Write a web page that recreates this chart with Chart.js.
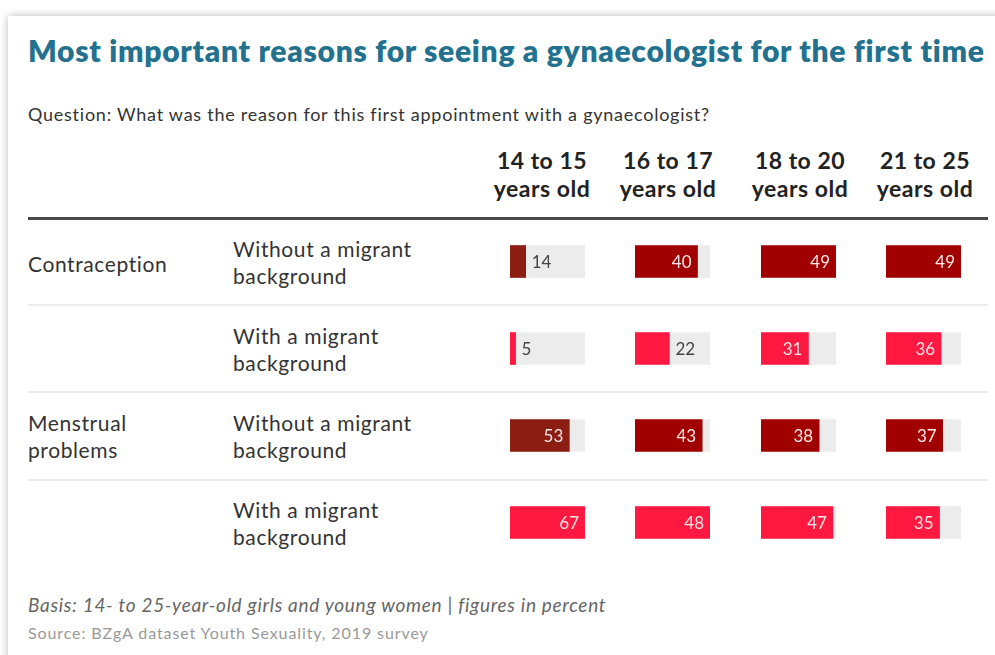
<!DOCTYPE html>
<html>
<head>
<meta charset="utf-8">
<script src="https://cdn.jsdelivr.net/npm/chart.js@4.4.1/dist/chart.umd.min.js"></script>
<style>
    body { margin: 0; background: #ffffff; width: 995px; height: 655px; overflow: hidden; font-family: Lato, "Open Sans", sans-serif; }
    .card { position: absolute; left: 8px; top: 16px; width: 1000px; height: 700px; background: #fff; box-shadow: 0 0 8px rgba(0,0,0,0.28); }
    .txt { position: absolute; white-space: nowrap; }
    .title { left: 28px; top: 32px; line-height: 36px; font-size: 30px; letter-spacing: 0.72px; font-weight: 800; color: #22718e; }
    .question { left: 28px; top: 103px; line-height: 22px; font-size: 18px; letter-spacing: 0.75px; color: #333; }
    .head { font-size: 23px; letter-spacing: 0.5px; font-weight: 700; color: #222; text-align: center; width: 140px; line-height: 28px; }
    .row { font-size: 21px; letter-spacing: 0.6px; color: #333; line-height: 26px; }
    .rule { position: absolute; left: 28px; width: 960px; }
    .col { position: absolute; top: 218px; width: 75px; height: 348px; }
    .basis { left: 28px; top: 594px; font-size: 19px; letter-spacing: 0.7px; font-style: italic; color: #666; line-height: 22px; }
    .source { left: 28px; top: 623px; font-size: 16px; letter-spacing: 0.9px; color: #999; line-height: 20px; }
</style>
</head>
<body>
<div class="card"></div>
<div id="root"></div>
<script>
    // Data
    const ageGroups = ['14 to 15|years old', '16 to 17|years old', '18 to 20|years old', '21 to 25|years old'];
    const reasons = ['Contraception', 'Menstrual|problems'];
    const groups = ['Without a migrant|background', 'With a migrant|background'];
    const age14to15 = [14, 5, 53, 67];
    const age16to17 = [40, 22, 43, 48];
    const age18to20 = [49, 31, 38, 47];
    const age21to25 = [49, 36, 37, 35];
    const columns = [age14to15, age16to17, age18to20, age21to25];

    const title = 'Most important reasons for seeing a gynaecologist for the first time';
    const question = 'Question: What was the reason for this first appointment with a gynaecologist?';
    const basis = 'Basis: 14- to 25-year-old girls and young women | figures in percent';
    const source = 'Source: BZgA dataset Youth Sexuality, 2019 survey';

    // Layout / style
    const colLeft = [510, 635, 761, 886];
    const headCenter = [542, 668, 800, 925];
    const rowCenter = [262, 349, 436, 523];
    const DARK = '#a00000';
    const BROWN = '#8b1d13';
    const LIGHT = '#ff1840';

    const root = document.getElementById('root');

    function addText(cls, text, left, top) {
        const d = document.createElement('div');
        d.className = 'txt ' + cls;
        d.textContent = text;
        if (left !== null) d.style.left = left + 'px';
        if (top !== null) d.style.top = top + 'px';
        root.appendChild(d);
        return d;
    }

    addText('title', title, null, null);
    addText('question', question, null, null);
    addText('basis', basis, null, null);
    addText('source', source, null, null);

    ageGroups.forEach((g, i) => {
        const lines = g.split('|');
        addText('head', lines[0], headCenter[i] - 70, 146);
        addText('head', lines[1], headCenter[i] - 70, 174);
    });

    // header rule and separators
    const hr = document.createElement('div');
    hr.className = 'rule';
    Object.assign(hr.style, { top: '217px', height: '3px', background: '#4a4a4a' });
    root.appendChild(hr);
    [304, 391, 479].forEach(y => {
        const s = document.createElement('div');
        s.className = 'rule';
        Object.assign(s.style, { top: y + 'px', height: '2px', background: '#ececec' });
        root.appendChild(s);
    });

    // row labels
    reasons.forEach((r, i) => {
        const lines = r.split('|');
        const c = rowCenter[i * 2];
        if (lines.length === 1) {
            addText('row', lines[0], 28, c - 13 + 2);
        } else {
            addText('row', lines[0], 28, c - 26);
            addText('row', lines[1], 28, c + 1);
        }
    });
    rowCenter.forEach((c, i) => {
        const lines = groups[i % 2].split('|');
        addText('row', lines[0], 233, c - 26);
        addText('row', lines[1], 233, c + 1);
    });

    const valueLabels = {
        id: 'valueLabels',
        afterDatasetsDraw(chart) {
            const ctx = chart.ctx;
            const meta = chart.getDatasetMeta(0);
            ctx.save();
            ctx.font = '17px Lato';
            ctx.textBaseline = 'middle';
            meta.data.forEach((bar, i) => {
                const v = chart.data.datasets[0].data[i];
                const w = bar.x - bar.base;
                if (w >= 40) {
                    ctx.textAlign = 'right';
                    ctx.fillStyle = '#fde6e6';
                    ctx.fillText(v, bar.x - 6, bar.y + 1);
                } else {
                    ctx.textAlign = 'left';
                    ctx.fillStyle = '#444';
                    ctx.fillText(v, bar.x + 6, bar.y + 1);
                }
            });
            ctx.restore();
        }
    };

    const categories = rowCenter.map((_, i) => 'r' + i);

    columns.forEach((vals, ci) => {
        const wrap = document.createElement('div');
        wrap.className = 'col';
        wrap.style.left = colLeft[ci] + 'px';
        const cv = document.createElement('canvas');
        wrap.appendChild(cv);
        root.appendChild(wrap);

        const colMax = Math.max(...vals);
        const darkColor = ci === 0 ? BROWN : DARK;
        new Chart(cv.getContext('2d'), {
            type: 'bar',
            data: {
                labels: categories,
                datasets: [{
                    data: vals,
                    backgroundColor: vals.map((_, i) => i % 2 === 0 ? darkColor : LIGHT),
                    barThickness: 32,
                    grouped: false
                }, {
                    data: vals.map(() => colMax),
                    backgroundColor: '#ececec',
                    barThickness: 32,
                    grouped: false
                }]
            },
            options: {
                indexAxis: 'y',
                responsive: true,
                maintainAspectRatio: false,
                animation: false,
                layout: { padding: 0 },
                scales: {
                    x: { display: false, min: 0, max: colMax },
                    y: { display: false }
                },
                plugins: { legend: { display: false }, tooltip: { enabled: false } }
            },
            plugins: [valueLabels]
        });
    });
</script>
</body>
</html>
